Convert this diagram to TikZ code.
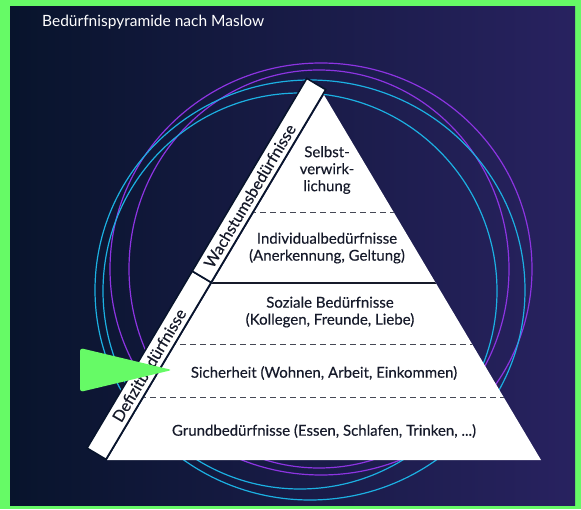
\documentclass[tikz,border=0pt]{standalone}
\usepackage{fontspec}
\setmainfont{Lato}
\usepackage{tikz}
\usetikzlibrary{shapes.geometric, positioning, calc}
\definecolor{framegreen}{RGB}{102,250,102}
\definecolor{navybg}{RGB}{8,20,44}
\definecolor{purplebg}{RGB}{40,34,96}
\definecolor{ringpurple}{RGB}{140,52,225}
\definecolor{ringcyan}{RGB}{28,176,226}
\definecolor{inkdark}{RGB}{22,26,42}
\tikzstyle{ring} = [line width=1.2pt]
\tikzstyle{level} = [text centered, align=center, text=inkdark, font=\addfontfeature{FakeBold=0.3}\fontsize{15}{17}\selectfont]
\tikzstyle{band} = [rectangle, draw=navybg, line width=1.6pt, fill=white, minimum height=22pt, inner sep=0pt, rotate=59.28]
\tikzstyle{bandtext} = [text=inkdark, rotate=59.28, inner sep=0pt, font=\addfontfeature{FakeBold=0.3}\fontsize{16}{18}\selectfont]
\tikzstyle{divider} = [draw=inkdark!80!white, dash pattern=on 6pt off 4pt, line width=1pt]

\begin{document}
\begin{tikzpicture}[x=1pt, y=1pt]
			\useasboundingbox (0,0) rectangle (581,509);
			
			\fill[framegreen] (0,0) rectangle (581,509);
			\shade[left color=navybg, middle color=navybg, right color=purplebg] (10,4) rectangle (575,502);
			
			\node (title) [anchor=base west, text=white, inner sep=0pt, font=\fontsize{15.5}{18}\selectfont] at (42,482) {Bedürfnispyramide nach Maslow};
			
			\draw[ring, ringpurple] (321,240) ellipse [x radius=211, y radius=206];
			\draw[ring, ringpurple] (319,240) ellipse [x radius=190, y radius=199];
			\draw[ring, ringcyan] (310,219) ellipse [x radius=215, y radius=210];
			\draw[ring, ringcyan] (300,218) ellipse [x radius=197, y radius=198];
			
			\coordinate (apex) at (324,414);
			\coordinate (bl) at (107,49);
			\coordinate (br) at (541,49);
			
			\fill[white] (apex) -- (bl) -- (br) -- cycle;
			
			\begin{scope}
			\clip (apex) -- (bl) -- (br) -- cycle;
			\draw[divider] (0,296) -- (581,296);
			\draw[inkdark, line width=1.6pt] (0,226) -- (581,226);
			\draw[divider] (0,164.5) -- (581,164.5);
			\draw[divider] (0,111) -- (581,111);
			\end{scope}
			
			\node (defizit) [band, minimum width=205.8pt] at (149.09,143.72) {};
			
			\node (wachstum) [band, minimum width=224.2pt] at (258.96,328.62) {};
			
			\node (defizittext) [bandtext] at ($(defizit.west)!0.5!(defizit.east)$) {Defizitbedürfnisse};
			
			\node (wachstumtext) [bandtext] at ($(wachstum.west)!0.42!(wachstum.east)$) {Wachstumsbedürfnisse};
			
			\node (selbst) [level] at (327,339) {Selbst-\\verwirk-\\lichung};
			
			\node (individual) [level] at (327,261) {Individualbedürfnisse\\(Anerkennung, Geltung)};
			
			\node (sozial) [level] at (330,197) {Soziale Bedürfnisse\\(Kollegen, Freunde, Liebe)};
			
			\node (sicherheit) [level] at (324,136) {Sicherheit (Wohnen, Arbeit, Einkommen)};
			
			\node (grund) [level] at (324,78) {Grundbedürfnisse (Essen, Schlafen, Trinken, ...)};
			
			\fill[framegreen, rounded corners=3pt] (80,161) -- (80,117) -- (172,139) -- cycle;
\end{tikzpicture}
\end{document}
